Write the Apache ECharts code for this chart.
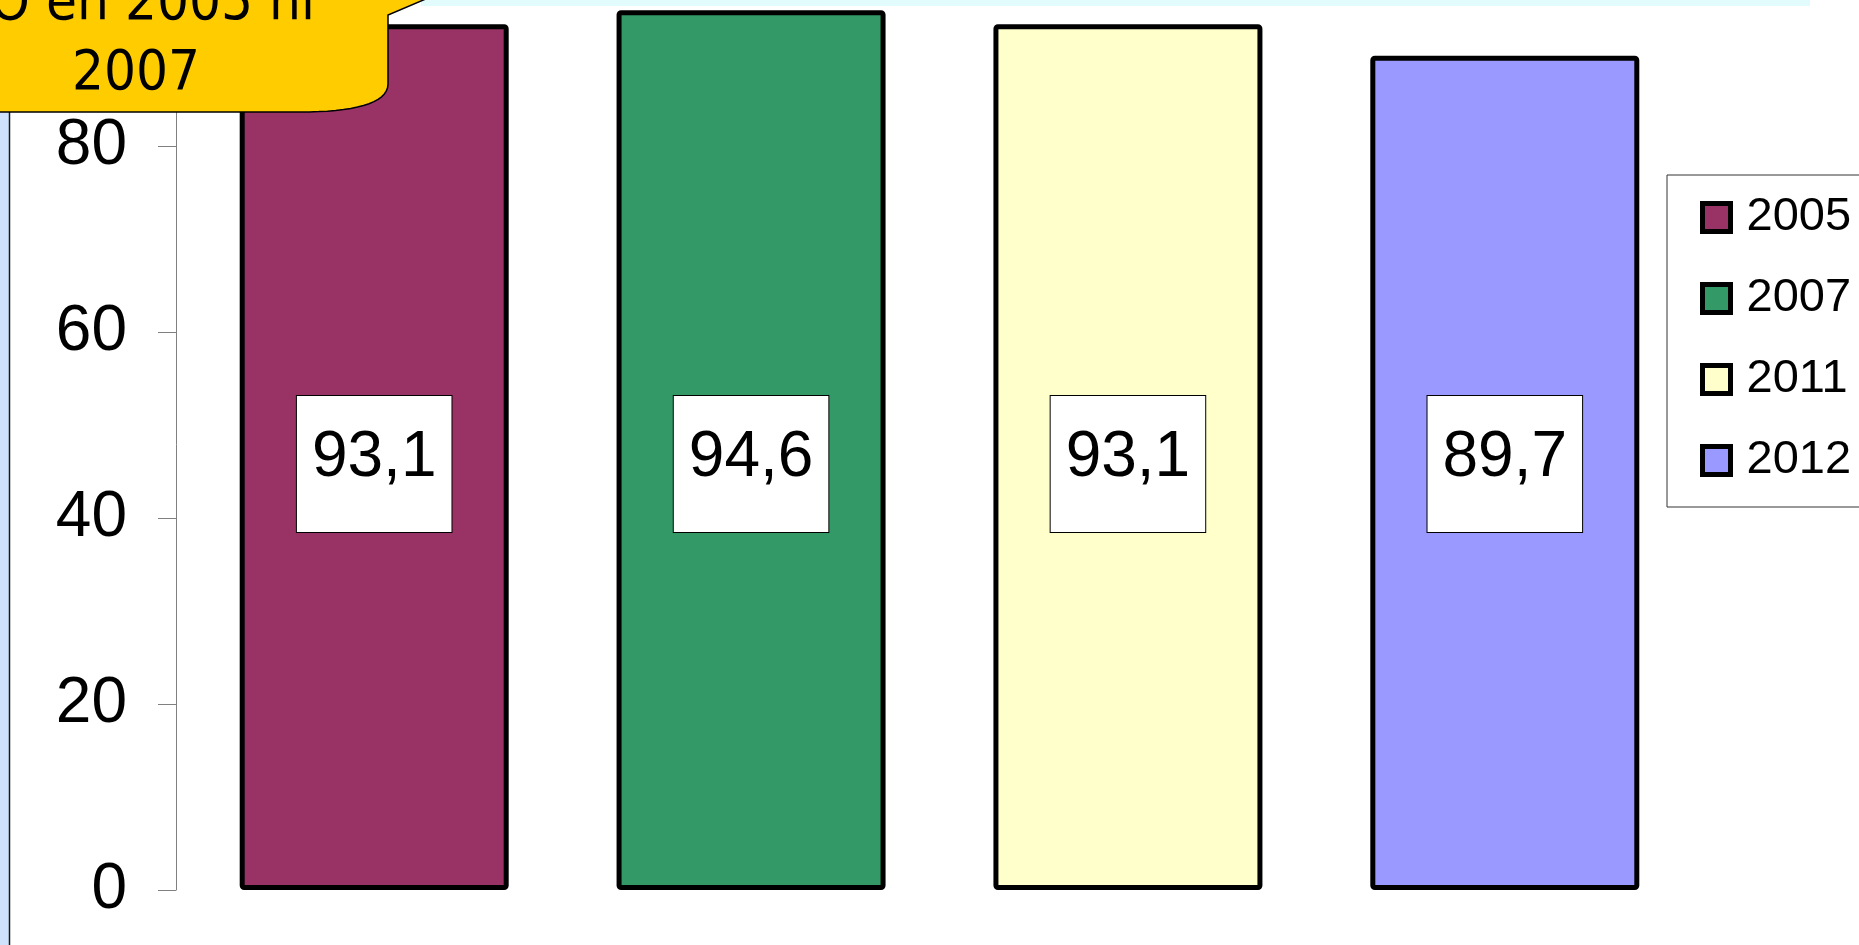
<!DOCTYPE html>
<html>
<head>
<meta charset="utf-8">
<title>2005 – 2012</title>
<script src="https://cdn.jsdelivr.net/npm/echarts@6/dist/echarts.min.js"></script>
<style>
  html, body { margin: 0; padding: 0; background: #ffffff; }
  #chart { width: 1859px; height: 945px; }
</style>
</head>
<body>
<div id="chart"></div>
<script>
// Survey years (one bar per year) and their values
const years = ['2005', '2007', '2011', '2012'];
const values = [93.1, 94.6, 93.1, 89.7];
// Value axis range
const axisMin = 0;
const axisMax = 100;
const axisStep = 20;
// Callout text lines
const calloutLines = ['O en 2005 ni', '2007'];

const palette = ['#993366', '#339966', '#FFFFCC', '#9999FF'];
const baseFont = 'Liberation Sans, Arial, Helvetica, sans-serif';

const fmt = v => String(v).replace('.', ',');

// Outline of the yellow callout: rounded lower-right corner built from a cubic curve
function calloutOutline() {
  const pts = [[-10, -30], [494, -30], [388, 15], [388, 84]];
  const p0 = [388, 84], c1 = [388, 104], c2 = [352, 112], p3 = [300, 112];
  for (let k = 1; k <= 16; k++) {
    const t = k / 16, u = 1 - t;
    pts.push([
      u * u * u * p0[0] + 3 * u * u * t * c1[0] + 3 * u * t * t * c2[0] + t * t * t * p3[0],
      u * u * u * p0[1] + 3 * u * u * t * c1[1] + 3 * u * t * t * c2[1] + t * t * t * p3[1]
    ]);
  }
  pts.push([-10, 112]);
  return pts;
}

const chart = echarts.init(document.getElementById('chart'), null, { renderer: 'canvas' });

const series = years.map((y, i) => ({
  name: y,
  type: 'bar',
  data: [values[i]],
  barWidth: 269,
  barGap: '40.1%',
  itemStyle: {
    color: palette[i],
    borderColor: '#000000',
    borderWidth: 5,
    borderRadius: 2
  },
  label: {
    show: true,
    position: 'insideBottom',
    distance: 358,
    formatter: p => fmt(p.value),
    fontFamily: baseFont,
    fontSize: 64,
    lineHeight: 74,
    color: '#000000',
    backgroundColor: '#ffffff',
    borderColor: '#000000',
    borderWidth: 1,
    padding: [25, 15, 37, 15]
  },
  emphasis: { disabled: true }
}));

const option = {
  animation: false,
  backgroundColor: '#ffffff',
  grid: {
    left: 176, right: 156, top: -40, bottom: 55,
    containLabel: false,
    outerBoundsMode: 'none'
  },
  xAxis: {
    type: 'category',
    data: [''],
    show: false
  },
  yAxis: {
    type: 'value',
    min: axisMin,
    max: axisMax,
    interval: axisStep,
    axisLine: { show: true, lineStyle: { color: '#808080', width: 1 } },
    axisTick: { show: true, length: 18, lineStyle: { color: '#808080', width: 1 } },
    splitLine: { show: false },
    axisLabel: {
      margin: 49,
      fontFamily: baseFont,
      fontSize: 64,
      color: '#000000'
    }
  },
  legend: {
    orient: 'vertical',
    left: 1667,
    top: 175,
    padding: [19, 60, 23, 33],
    itemGap: 34,
    itemWidth: 28,
    itemHeight: 28,
    icon: 'rect',
    backgroundColor: '#ffffff',
    borderColor: '#333333',
    borderWidth: 1,
    borderRadius: 0,
    selectedMode: false,
    itemStyle: { borderColor: '#000000', borderWidth: 5 },
    textStyle: {
      fontFamily: baseFont,
      fontSize: 47,
      lineHeight: 46,
      color: '#000000',
      padding: [0, 0, 0, 11]
    },
    data: years
  },
  graphic: [
    // light blue panel edge on the left
    {
      type: 'rect', z: 1, silent: true,
      shape: { x: 0, y: 0, width: 9, height: 945 },
      style: { fill: '#cfe2fb' }
    },
    {
      type: 'line', z: 2, silent: true,
      shape: { x1: 9.5, y1: 0, x2: 9.5, y2: 945 },
      style: { stroke: '#1a1a1a', lineWidth: 1.5 }
    },
    // pale strip along the top edge
    {
      type: 'rect', z: 1, silent: true,
      shape: { x: 421, y: 0, width: 1389, height: 6 },
      style: { fill: '#e2fbfd' }
    },
    // yellow callout with its pointer
    {
      type: 'polygon', z: 100, silent: true,
      shape: { points: calloutOutline() },
      style: { fill: '#FFCC00', stroke: '#000000', lineWidth: 1.5 }
    },
    {
      type: 'text', z: 101, silent: true,
      style: {
        x: 315, y: 4,
        text: calloutLines[0],
        font: '56px "DejaVu Sans Condensed", "DejaVu Sans", sans-serif',
        fill: '#000000',
        align: 'right',
        verticalAlign: 'middle'
      }
    },
    {
      type: 'text', z: 101, silent: true,
      style: {
        x: 136, y: 74,
        text: calloutLines[1],
        font: '56px "DejaVu Sans Condensed", "DejaVu Sans", sans-serif',
        fill: '#000000',
        align: 'center',
        verticalAlign: 'middle'
      }
    }
  ],
  series: series
};

chart.setOption(option);
</script>
</body>
</html>
